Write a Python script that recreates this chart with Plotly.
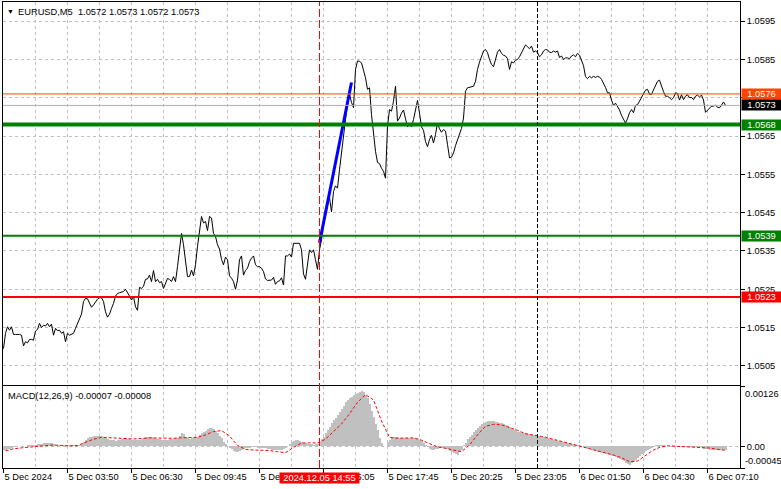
import plotly.graph_objects as go

# ---------------- data ----------------
close = [
    1.05095, 1.05135, 1.05152, 1.05143, 1.05152, 1.05132, 1.05132, 1.05132, 1.05132, 1.05130,
    1.05102, 1.05113, 1.05110, 1.05119, 1.05119, 1.05117, 1.05141, 1.05145, 1.05161, 1.05150,
    1.05156, 1.05154, 1.05161, 1.05152, 1.05159, 1.05130, 1.05148, 1.05142, 1.05143, 1.05135,
    1.05139, 1.05113, 1.05135, 1.05130, 1.05132, 1.05135, 1.05148, 1.05161, 1.05177, 1.05185,
    1.05218, 1.05226, 1.05225, 1.05213, 1.05203, 1.05209, 1.05218, 1.05224, 1.05228, 1.05228,
    1.05218, 1.05191, 1.05177, 1.05185, 1.05200, 1.05213, 1.05232, 1.05239, 1.05241, 1.05242,
    1.05244, 1.05250, 1.05239, 1.05232, 1.05222, 1.05231, 1.05204, 1.05195, 1.05255, 1.05252,
    1.05258, 1.05276, 1.05277, 1.05287, 1.05270, 1.05299, 1.05270, 1.05276, 1.05267, 1.05270,
    1.05252, 1.05264, 1.05278, 1.05276, 1.05270, 1.05283, 1.05270, 1.05309, 1.05353, 1.05396,
    1.05366, 1.05331, 1.05283, 1.05283, 1.05300, 1.05285, 1.05314, 1.05362, 1.05405, 1.05440,
    1.05423, 1.05427, 1.05403, 1.05440, 1.05436, 1.05396, 1.05388, 1.05366, 1.05355, 1.05328,
    1.05314, 1.05334, 1.05327, 1.05285, 1.05279, 1.05270, 1.05250, 1.05274, 1.05327, 1.05337,
    1.05287, 1.05299, 1.05305, 1.05322, 1.05331, 1.05337, 1.05314, 1.05309, 1.05309, 1.05305,
    1.05296, 1.05277, 1.05273, 1.05274, 1.05274, 1.05281, 1.05263, 1.05270, 1.05272, 1.05280,
    1.05261, 1.05337, 1.05337, 1.05342, 1.05334, 1.05370, 1.05370, 1.05370, 1.05370, 1.05353,
    1.05290, 1.05276, 1.05314, 1.05353, 1.05346, 1.05353, 1.05327, 1.05302, 1.05353, 1.05379,
    1.05426, 1.05457, 1.05471, 1.05489, 1.05452, 1.05505, 1.05520, 1.05514, 1.05562, 1.05610,
    1.05658, 1.05693, 1.05732, 1.05759, 1.05738, 1.05724, 1.05824, 1.05846, 1.05845, 1.05841,
    1.05822, 1.05802, 1.05772, 1.05776, 1.05706, 1.05656, 1.05610, 1.05581, 1.05578, 1.05566,
    1.05558, 1.05540, 1.05676, 1.05719, 1.05715, 1.05741, 1.05780, 1.05689, 1.05697, 1.05710,
    1.05718, 1.05695, 1.05674, 1.05684, 1.05674, 1.05693, 1.05719, 1.05743, 1.05710, 1.05674,
    1.05665, 1.05636, 1.05622, 1.05641, 1.05652, 1.05632, 1.05654, 1.05684, 1.05669, 1.05660,
    1.05667, 1.05663, 1.05628, 1.05593, 1.05595, 1.05606, 1.05625, 1.05641, 1.05656, 1.05670,
    1.05697, 1.05767, 1.05776, 1.05778, 1.05779, 1.05780, 1.05793, 1.05824, 1.05843, 1.05859,
    1.05872, 1.05876, 1.05868, 1.05850, 1.05837, 1.05831, 1.05852, 1.05869, 1.05876, 1.05866,
    1.05861, 1.05859, 1.05852, 1.05824, 1.05844, 1.05841, 1.05848, 1.05850, 1.05857, 1.05868,
    1.05881, 1.05888, 1.05883, 1.05878, 1.05885, 1.05869, 1.05872, 1.05868, 1.05857, 1.05862,
    1.05872, 1.05876, 1.05875, 1.05869, 1.05868, 1.05872, 1.05869, 1.05872, 1.05855, 1.05859,
    1.05850, 1.05854, 1.05854, 1.05852, 1.05859, 1.05862, 1.05857, 1.05866, 1.05861, 1.05848,
    1.05834, 1.05805, 1.05800, 1.05806, 1.05802, 1.05806, 1.05803, 1.05806, 1.05804, 1.05798,
    1.05789, 1.05777, 1.05763, 1.05763, 1.05744, 1.05730, 1.05736, 1.05728, 1.05718, 1.05704,
    1.05693, 1.05684, 1.05695, 1.05711, 1.05719, 1.05711, 1.05730, 1.05732, 1.05741, 1.05750,
    1.05759, 1.05770, 1.05772, 1.05759, 1.05759, 1.05772, 1.05782, 1.05793, 1.05796, 1.05779,
    1.05766, 1.05754, 1.05754, 1.05750, 1.05745, 1.05750, 1.05763, 1.05761, 1.05744, 1.05758,
    1.05745, 1.05754, 1.05758, 1.05750, 1.05751, 1.05745, 1.05754, 1.05757, 1.05752, 1.05757,
    1.05744, 1.05712, 1.05718, 1.05722, 1.05728, 1.05728, 1.05731, 1.05725, 1.05724, 1.05731,
    1.05739, 1.05730,
]

macd_main = [
    -0.00007, -0.00007, -0.00006, -0.00005, -0.00003, -0.00001, 0.00000, 0.00000, 0.00001, 0.00001,
    0.00001, 0.00001, 0.00002, 0.00002, 0.00003, 0.00003, 0.00004, 0.00005, 0.00006, 0.00006,
    0.00007, 0.00007, 0.00008, 0.00008, 0.00008, 0.00006, 0.00004, 0.00003, 0.00003, 0.00002,
    0.00002, 0.00002, 0.00002, 0.00002, 0.00002, 0.00002, 0.00002, 0.00002, 0.00003, 0.00006,
    0.00010, 0.00014, 0.00017, 0.00019, 0.00020, 0.00021, 0.00022, 0.00022, 0.00022, 0.00021,
    0.00020, 0.00019, 0.00016, 0.00014, 0.00013, 0.00013, 0.00012, 0.00013, 0.00013, 0.00015,
    0.00017, 0.00017, 0.00016, 0.00015, 0.00014, 0.00013, 0.00013, 0.00013, 0.00014, 0.00016,
    0.00018, 0.00020, 0.00020, 0.00020, 0.00019, 0.00018, 0.00017, 0.00016, 0.00015, 0.00014,
    0.00014, 0.00013, 0.00014, 0.00015, 0.00015, 0.00016, 0.00017, 0.00018, 0.00022, 0.00027,
    0.00026, 0.00020, 0.00017, 0.00016, 0.00017, 0.00018, 0.00019, 0.00020, 0.00024, 0.00028,
    0.00030, 0.00032, 0.00036, 0.00039, 0.00039, 0.00037, 0.00032, 0.00028, 0.00022, 0.00017,
    0.00010, 0.00005, 0.00000, -0.00003, -0.00006, -0.00009, -0.00011, -0.00011, -0.00009, -0.00007,
    -0.00005, -0.00004, -0.00003, -0.00003, -0.00002, -0.00002, -0.00002, -0.00003, -0.00003, -0.00003,
    -0.00003, -0.00003, -0.00005, -0.00006, -0.00007, -0.00007, -0.00008, -0.00008, -0.00008, -0.00007,
    -0.00006, -0.00003, 0.00000, 0.00005, 0.00010, 0.00012, 0.00013, 0.00013, 0.00012, 0.00010,
    0.00008, 0.00007, 0.00006, 0.00006, 0.00005, 0.00004, 0.00005, 0.00005, 0.00010, 0.00016,
    0.00020, 0.00028, 0.00034, 0.00040, 0.00048, 0.00056, 0.00060, 0.00065, 0.00072, 0.00078,
    0.00084, 0.00092, 0.00097, 0.00100, 0.00104, 0.00107, 0.00110, 0.00112, 0.00114, 0.00115,
    0.00114, 0.00108, 0.00100, 0.00088, 0.00074, 0.00062, 0.00046, 0.00034, 0.00018, 0.00008,
    0.00001, 0.00001, 0.00010, 0.00014, 0.00019, 0.00020, 0.00020, 0.00019, 0.00018, 0.00018,
    0.00018, 0.00017, 0.00017, 0.00018, 0.00017, 0.00017, 0.00016, 0.00015, 0.00014, 0.00012,
    0.00007, 0.00002, -0.00002, -0.00006, -0.00007, -0.00007, -0.00006, -0.00005, -0.00004, -0.00004,
    -0.00004, -0.00005, -0.00006, -0.00009, -0.00011, -0.00013, -0.00016, -0.00017, -0.00012, -0.00007,
    0.00002, 0.00008, 0.00015, 0.00020, 0.00024, 0.00030, 0.00035, 0.00039, 0.00043, 0.00046,
    0.00048, 0.00050, 0.00052, 0.00053, 0.00053, 0.00052, 0.00051, 0.00050, 0.00049, 0.00048,
    0.00046, 0.00044, 0.00043, 0.00040, 0.00037, 0.00035, 0.00033, 0.00031, 0.00030, 0.00029,
    0.00028, 0.00027, 0.00026, 0.00025, 0.00024, 0.00024, 0.00023, 0.00022, 0.00021, 0.00020,
    0.00019, 0.00018, 0.00017, 0.00016, 0.00015, 0.00014, 0.00013, 0.00012, 0.00011, 0.00010,
    0.00010, 0.00009, 0.00008, 0.00007, 0.00006, 0.00005, 0.00004, 0.00003, 0.00002, 0.00000,
    -0.00002, -0.00003, -0.00005, -0.00006, -0.00007, -0.00008, -0.00009, -0.00011, -0.00012, -0.00013,
    -0.00014, -0.00015, -0.00016, -0.00017, -0.00019, -0.00021, -0.00022, -0.00024, -0.00026, -0.00028,
    -0.00031, -0.00034, -0.00037, -0.00038, -0.00035, -0.00032, -0.00028, -0.00024, -0.00020, -0.00016,
    -0.00013, -0.00010, -0.00007, -0.00005, -0.00003, -0.00001, 0.00002, 0.00003, 0.00004, 0.00004,
    0.00003, 0.00001, 0.00000, -0.00001, -0.00001, -0.00001, -0.00001, -0.00002, -0.00002, -0.00002,
    -0.00002, -0.00002, -0.00002, -0.00002, -0.00002, -0.00002, -0.00002, -0.00002, -0.00002, -0.00002,
    -0.00005, -0.00006, -0.00006, -0.00007, -0.00007, -0.00007, -0.00007, -0.00007, -0.00007, -0.00007,
    -0.00007, -0.00007,
]

# signal line, read every 4th bar starting at bar 1
signal_first_bar = 1
signal_step = 4
signal_vals = [
    -0.000090, -0.000050, -0.000030, -0.000015, 0.000000, 0.000020, 0.000030, 0.000020, 0.000010, 0.000020,
    0.000080, 0.000150, 0.000190, 0.000180, 0.000165, 0.000160, 0.000155, 0.000165, 0.000180, 0.000175,
    0.000165, 0.000170, 0.000180, 0.000185, 0.000190, 0.000240, 0.000310, 0.000330, 0.000220, 0.000020,
    -0.000060, -0.000075, -0.000075, -0.000085, -0.000110, -0.000130, -0.000020, 0.000070, 0.000075, 0.000070,
    0.000150, 0.000310, 0.000470, 0.000680, 0.000920, 0.001080, 0.000970, 0.000530, 0.000190, 0.000170,
    0.000180, 0.000180, 0.000130, 0.000060, -0.000010, -0.000040, -0.000080, -0.000110, 0.000030, 0.000240,
    0.000420, 0.000460, 0.000450, 0.000400, 0.000335, 0.000265, 0.000240, 0.000210, 0.000170, 0.000126,
    0.000078, 0.000043, -0.000006, -0.000040, -0.000096, -0.000138, -0.000180, -0.000235, -0.000318, -0.000305,
    -0.000193, -0.000075, -0.000006, 0.000015, 0.000001, -0.000006, -0.000013, -0.000020, -0.000033, -0.000061,
    -0.000082,
]

price_ticks = [1.0505, 1.0515, 1.0525, 1.0535, 1.0545, 1.0555, 1.0565, 1.0575, 1.0585, 1.0595]
price_range = [1.0500, 1.0600]
macd_range = [-0.00045, 0.00126]

time_labels = ["5 Dec 2024", "5 Dec 03:50", "5 Dec 06:30", "5 Dec 09:45", "5 Dec 12:25",
               "5 Dec 15:05", "5 Dec 17:45", "5 Dec 20:25", "5 Dec 23:05", "6 Dec 01:50",
               "6 Dec 04:30", "6 Dec 07:10"]
bars_per_label = 32

level_prices = [1.0568, 1.0539, 1.0523]
ask_price = 1.0576
bid_price = 1.0573
trend_x = [158, 174]
trend_y = [1.05371, 1.05790]
event_bar = 158
event_text = "2024.12.05 14:55"
day_separator_bar = 267

title_text = "EURUSD,M5\u00a0\u00a01.0572 1.0573 1.0572 1.0573"
macd_text = "MACD(12,26,9) -0.00007 -0.00008"

# ---------------- styles ----------------
FONT = "Liberation Sans, Arial, sans-serif"
FS = 9.3
GRID = "#C0C0C0"
GDASH = "3px,3px"
level_styles = [("#008000", 4), ("#008000", 2), ("#FF0000", 2)]

n = len(close)
bars = list(range(n))
signal_x = [signal_first_bar + signal_step * k for k in range(len(signal_vals))]
label_bars = [bars_per_label * k for k in range(len(time_labels))]

fig = go.Figure()
fig.add_trace(go.Bar(x=bars, y=macd_main, xaxis="x2", yaxis="y2", width=1.0,
                     marker=dict(color="#C0C0C0", line=dict(width=0))))
fig.add_trace(go.Scatter(x=signal_x, y=signal_vals, xaxis="x2", yaxis="y2", mode="lines",
                         line=dict(color="#FF0000", width=1, dash="3px,2px")))
fig.add_trace(go.Scatter(x=bars, y=close, mode="lines", line=dict(color="#000000", width=1)))
fig.add_trace(go.Scatter(x=trend_x, y=trend_y, mode="lines", line=dict(color="#0000FF", width=3)))

xr = [-0.25, 368.25]
xbase = dict(range=xr, showline=True, mirror=True, linecolor="black", linewidth=1,
             zeroline=False, fixedrange=True, showgrid=True, gridcolor=GRID, griddash=GDASH,
             tickmode="array", tickvals=label_bars,
             minor=dict(tick0=16, dtick=32, showgrid=True, gridcolor=GRID, griddash=GDASH, ticks=""))

layout_x = dict(xbase, domain=[0, 1], anchor="y", showticklabels=False, ticks="")
layout_x2 = dict(xbase, domain=[0, 1], anchor="y2", matches="x", ticktext=time_labels,
                 ticks="outside", ticklen=4, tickcolor="black",
                 ticklabelposition="outside right",
                 tickfont=dict(family=FONT, size=FS, color="black"))

main_dom = [(468 - 385) / 466, 1.0]
macd_dom = [0.0, (468 - 386) / 466]

fig.update_layout(
    width=781, height=489,
    margin=dict(l=3, r=41, t=2, b=21),
    paper_bgcolor="white", plot_bgcolor="white",
    showlegend=False, hovermode=False, bargap=0,
    font=dict(family=FONT, size=FS, color="black"),
    xaxis=layout_x, xaxis2=layout_x2,
    yaxis=dict(domain=main_dom, anchor="x", side="right", range=price_range,
               tickmode="array", tickvals=price_ticks,
               ticktext=[f"{v:.4f}" for v in price_ticks],
               ticks="outside", ticklen=4, tickcolor="black",
               showline=True, mirror=True, linecolor="black", linewidth=1,
               showgrid=True, gridcolor=GRID, griddash=GDASH, zeroline=False, fixedrange=True,
               tickfont=dict(family=FONT, size=FS, color="black")),
    yaxis2=dict(domain=macd_dom, anchor="x2", side="right", range=macd_range,
                tickmode="array", tickvals=[macd_range[1], 0.0, macd_range[0]],
                ticktext=["", "0.00", ""],
                ticks="outside", ticklen=4, tickcolor="black",
                showline=True, mirror=True, linecolor="black", linewidth=1,
                showgrid=True, gridcolor=GRID, griddash=GDASH, zeroline=False, fixedrange=True,
                tickfont=dict(family=FONT, size=FS, color="black")),
)

shapes = []
shapes.append(dict(type="line", xref="x domain", x0=0, x1=1, yref="y", y0=ask_price, y1=ask_price,
                   line=dict(color="#FF4500", width=1), layer="above"))
shapes.append(dict(type="line", xref="x domain", x0=0, x1=1, yref="y", y0=bid_price, y1=bid_price,
                   line=dict(color="#B0B0B0", width=1), layer="above"))
for p, (c, w) in zip(level_prices, level_styles):
    shapes.append(dict(type="line", xref="x domain", x0=0, x1=1, yref="y", y0=p, y1=p,
                       line=dict(color=c, width=w), layer="above"))
shapes.append(dict(type="line", xref="x", x0=event_bar, x1=event_bar, yref="paper", y0=0, y1=1,
                   line=dict(color="#FF0000", width=1, dash="8px,3px"), layer="above"))
shapes.append(dict(type="line", xref="x", x0=day_separator_bar, x1=day_separator_bar, yref="paper",
                   y0=0, y1=1, line=dict(color="#000000", width=1, dash="4px,2px"), layer="above"))
fig.update_layout(shapes=shapes)

ann = []
ann.append(dict(text="▼", xref="paper", x=0, xanchor="left", xshift=2, yref="paper", y=1,
                yanchor="top", yshift=-4, showarrow=False, font=dict(size=7, color="black")))
ann.append(dict(text=title_text, xref="paper", x=0, xanchor="left", xshift=13, yref="paper", y=1,
                yanchor="top", yshift=-3, showarrow=False, font=dict(family=FONT, size=FS, color="black")))
ann.append(dict(text=macd_text, xref="paper", x=0, xanchor="left", xshift=3, yref="y2 domain", y=1,
                yanchor="top", yshift=-3, showarrow=False, font=dict(family=FONT, size=FS, color="black")))
ann.append(dict(text=f"{macd_range[1]:.5f}", xref="paper", x=1, xanchor="left", xshift=3, yref="y2",
                y=macd_range[1], yanchor="top", yshift=-1, showarrow=False,
                font=dict(family=FONT, size=FS, color="black")))
ann.append(dict(text=f"{macd_range[0]:.5f}", xref="paper", x=1, xanchor="left", xshift=3, yref="y2",
                y=macd_range[0], yanchor="bottom", yshift=0, showarrow=False,
                font=dict(family=FONT, size=FS, color="black")))

tags = [(ask_price, "#FF4500"), (bid_price, "#000000")] + \
       [(p, c) for p, (c, w) in zip(level_prices, level_styles)]
for p, col in tags:
    ann.append(dict(text=f"{p:.4f}", xref="paper", x=1, xanchor="left", xshift=1, yref="y", y=p,
                    yanchor="middle", showarrow=False, bgcolor=col, borderpad=0, width=39, height=10,
                    align="center", font=dict(family=FONT, size=FS, color="white")))

ann.append(dict(text=event_text, xref="x2", x=event_bar, xanchor="center", yref="paper", y=0,
                yanchor="top", yshift=-4, showarrow=False, bgcolor="#FF0000", borderpad=0,
                width=79, height=10, align="center", font=dict(family=FONT, size=FS, color="white")))
fig.update_layout(annotations=ann)

fig.write_html("out.html", config={"displayModeBar": False, "staticPlot": True},
               post_script="document.body.style.margin='0px';document.body.style.padding='0px';")
